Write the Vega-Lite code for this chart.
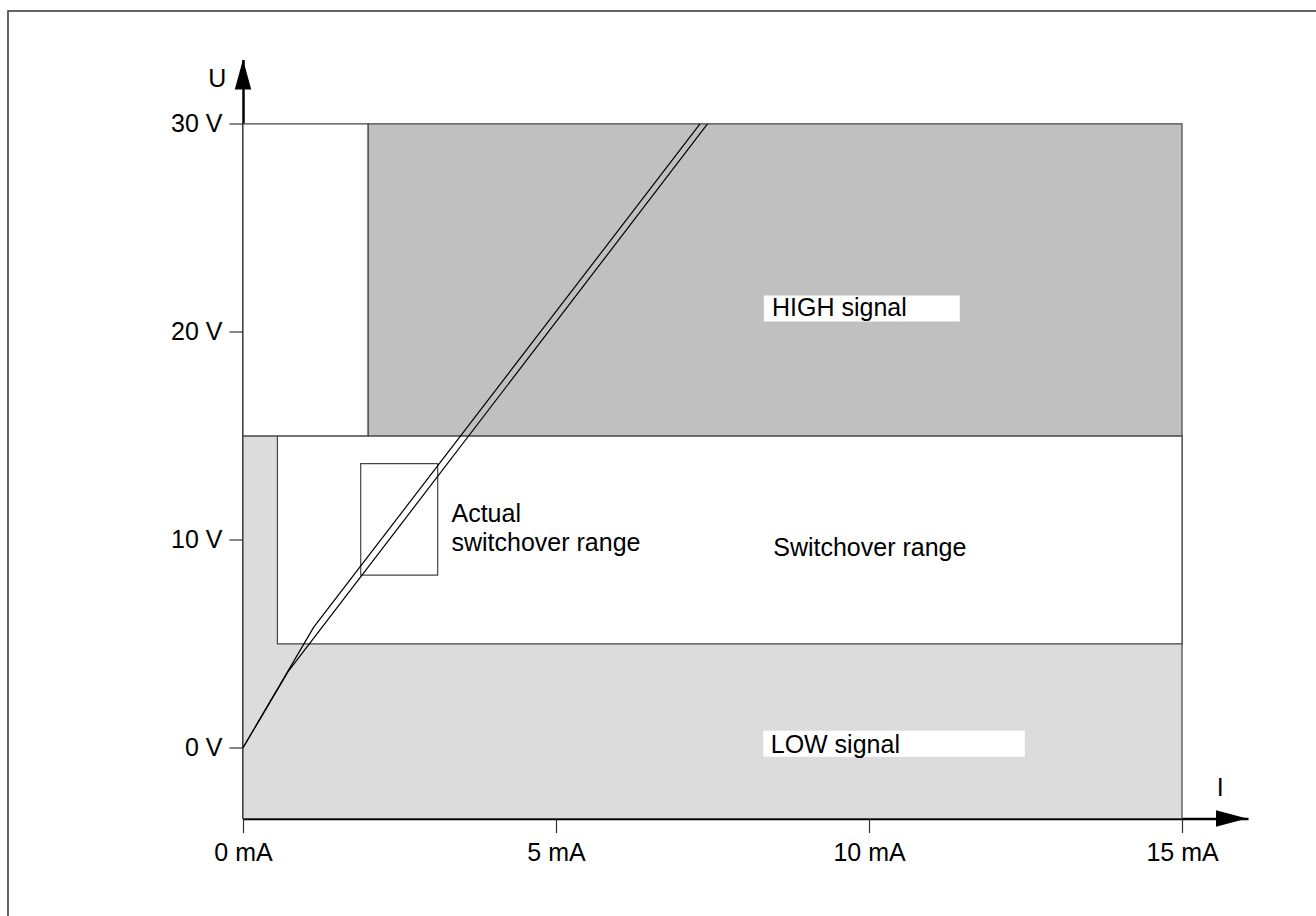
{
  "$schema": "https://vega.github.io/schema/vega-lite/v6.json",
  "width": 1005,
  "height": 759,
  "autosize": {"type": "none"},
  "padding": {"left": 243, "top": 59.5, "right": 68, "bottom": 97.5},
  "background": "white",
  "config": {"view": {"stroke": null}, "font": "Liberation Sans"},
  "datasets": {
    "frame": [{"i": -3.754, "i2": 18, "u": 35.43, "u2": -9}],
    "regions": [
      {"region": "LOW signal", "i": 0, "i2": 15, "u": -3.4, "u2": 15},
      {"region": "Switchover range", "i": 0.55, "i2": 15, "u": 5, "u2": 15},
      {"region": "Below HIGH", "i": 0, "i2": 2, "u": 15, "u2": 30},
      {"region": "HIGH signal", "i": 2, "i2": 15, "u": 15, "u2": 30}
    ],
    "labelboxes": [
      {"label": "HIGH signal", "i": 8.32, "i2": 11.45, "u": 20.5, "u2": 21.75},
      {"label": "LOW signal", "i": 8.31, "i2": 12.49, "u": -0.43, "u2": 0.82}
    ],
    "actualbox": [{"i": 1.88, "i2": 3.11, "u": 8.3, "u2": 13.67}],
    "curves": [
      {"curve": "A", "i": 0, "u": 0},
      {"curve": "A", "i": 1.13, "u": 5.8},
      {"curve": "A", "i": 7.3, "u": 30},
      {"curve": "B", "i": 0, "u": 0},
      {"curve": "B", "i": 0.72, "u": 3.66},
      {"curve": "B", "i": 7.42, "u": 30}
    ],
    "texts": [
      {"text": "HIGH signal", "i": 8.45, "u": 20.77},
      {"text": "LOW signal", "i": 8.43, "u": -0.26},
      {"text": "Switchover range", "i": 8.47, "u": 9.2},
      {"text": "Actual", "i": 3.33, "u": 10.87},
      {"text": "switchover range", "i": 3.33, "u": 9.45}
    ],
    "axistitles": [
      {"text": "U", "i": -0.41, "u": 32.14},
      {"text": "I", "i": 15.61, "u": -1.92}
    ],
    "arrowU": [{"i": 0, "u": 32.38}],
    "arrowI": [{"i": 15.79, "u": -3.4}]
  },
  "encoding": {
    "x": {
      "field": "i", "type": "quantitative",
      "scale": {"domain": [0, 16.054], "nice": false, "zero": false},
      "axis": {
        "values": [0, 5, 10, 15], "labelExpr": "datum.value + ' mA'", "title": null, "grid": false,
        "domainColor": "black", "domainWidth": 2.5, "tickColor": "#333", "tickSize": 14, "tickWidth": 1.2,
        "labelFont": "Liberation Sans", "labelFontSize": 25, "labelColor": "black", "labelPadding": 8,
        "labelFlush": false, "labelDx": 9, "labelOverlap": false
      }
    },
    "y": {
      "field": "u", "type": "quantitative",
      "scale": {"domain": [-3.4, 33.1], "nice": false, "zero": false},
      "axis": {
        "values": [0, 10, 20, 30], "labelExpr": "datum.value + ' V'", "title": null, "grid": false,
        "domainColor": "black", "domainWidth": 2.5, "tickColor": "#333", "tickSize": 14, "tickWidth": 1.2,
        "labelFont": "Liberation Sans", "labelFontSize": 25, "labelColor": "black", "labelPadding": 7,
        "labelOverlap": false
      }
    }
  },
  "layer": [
    {
      "data": {"name": "frame"},
      "mark": {"type": "rect", "fill": null, "fillOpacity": 0, "stroke": "#333", "strokeWidth": 1.5},
      "encoding": {"x2": {"field": "i2"}, "y2": {"field": "u2"}}
    },
    {
      "data": {"name": "regions"},
      "mark": {"type": "rect", "stroke": "#444", "strokeWidth": 1.2},
      "encoding": {
        "x2": {"field": "i2"}, "y2": {"field": "u2"},
        "fill": {"field": "region", "type": "nominal", "legend": null,
          "scale": {"domain": ["LOW signal", "Switchover range", "Below HIGH", "HIGH signal"],
                    "range": ["#dcdcdc", "#ffffff", "#ffffff", "#c0c0c0"]}}
      }
    },
    {
      "data": {"name": "labelboxes"},
      "mark": {"type": "rect", "fill": "white", "stroke": null},
      "encoding": {"x2": {"field": "i2"}, "y2": {"field": "u2"}}
    },
    {
      "data": {"name": "actualbox"},
      "mark": {"type": "rect", "fill": null, "fillOpacity": 0, "stroke": "#444", "strokeWidth": 1.2},
      "encoding": {"x2": {"field": "i2"}, "y2": {"field": "u2"}}
    },
    {
      "data": {"name": "curves"},
      "mark": {"type": "line", "color": "black", "strokeWidth": 1.2},
      "encoding": {"detail": {"field": "curve"}}
    },
    {
      "data": {"name": "texts"},
      "mark": {"type": "text", "align": "left", "baseline": "alphabetic", "fontSize": 25, "font": "Liberation Sans", "color": "black"},
      "encoding": {"text": {"field": "text"}}
    },
    {
      "data": {"name": "axistitles"},
      "mark": {"type": "text", "align": "center", "baseline": "middle", "fontSize": 25, "font": "Liberation Sans", "color": "black"},
      "encoding": {"text": {"field": "text"}}
    },
    {
      "data": {"name": "arrowU"},
      "mark": {"type": "point", "shape": "M0,-1L0.55,1L-0.55,1Z", "filled": true, "color": "black", "opacity": 1, "size": 900}
    },
    {
      "data": {"name": "arrowI"},
      "mark": {"type": "point", "shape": "M1,0L-1,-0.53L-1,0.53Z", "filled": true, "color": "black", "opacity": 1, "size": 961}
    }
  ]
}
